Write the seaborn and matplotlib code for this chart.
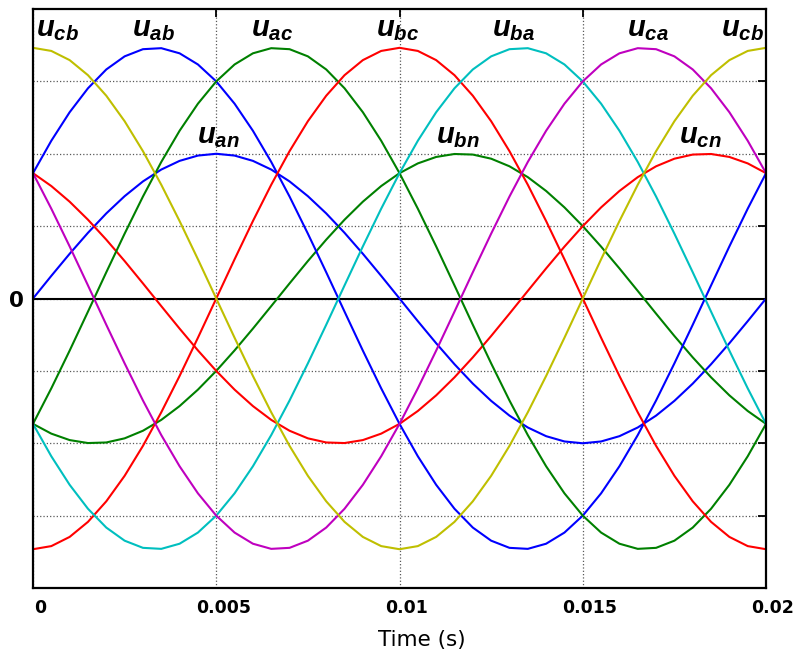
import numpy as np
import pandas as pd
import seaborn as sns
import matplotlib.pyplot as plt
from matplotlib.transforms import ScaledTranslation

# sample instants over one 50 Hz period
t = np.linspace(0, 0.02, 41)

# phase voltages (grid units, peak = 2)
u_an = [0, 0.313, 0.618, 0.908, 1.176, 1.414, 1.618, 1.782, 1.902, 1.975, 2.000,
        1.975, 1.902, 1.782, 1.618, 1.414, 1.176, 0.908, 0.618, 0.313, 0,
        -0.313, -0.618, -0.908, -1.176, -1.414, -1.618, -1.782, -1.902, -1.975, -2.000,
        -1.975, -1.902, -1.782, -1.618, -1.414, -1.176, -0.908, -0.618, -0.313, 0]
u_bn = [-1.732, -1.867, -1.956, -1.997, -1.989, -1.932, -1.827, -1.677, -1.486, -1.259, -1.000,
        -0.717, -0.416, -0.105, 0.209, 0.518, 0.813, 1.089, 1.338, 1.554, 1.732,
        1.867, 1.956, 1.997, 1.989, 1.932, 1.827, 1.677, 1.486, 1.259, 1.000,
        0.717, 0.416, 0.105, -0.209, -0.518, -0.813, -1.089, -1.338, -1.554, -1.732]
u_cn = [1.732, 1.554, 1.338, 1.089, 0.813, 0.518, 0.209, -0.105, -0.416, -0.717, -1.000,
        -1.259, -1.486, -1.677, -1.827, -1.932, -1.989, -1.997, -1.956, -1.867, -1.732,
        -1.554, -1.338, -1.089, -0.813, -0.518, -0.209, 0.105, 0.416, 0.717, 1.000,
        1.259, 1.486, 1.677, 1.827, 1.932, 1.989, 1.997, 1.956, 1.867, 1.732]

xticks = [0, 0.005, 0.01, 0.015, 0.02]
xticklabels = ['0', '0.005', '0.01', '0.015', '0.02']

u_an = np.array(u_an)
u_bn = np.array(u_bn)
u_cn = np.array(u_cn)

# line voltages are differences of the phase voltages
series = {
    'an': u_an, 'bn': u_bn, 'cn': u_cn,
    'ab': u_an - u_bn, 'ac': u_an - u_cn, 'bc': u_bn - u_cn,
    'ba': u_bn - u_an, 'ca': u_cn - u_an, 'cb': u_cn - u_bn,
}
colors = {
    'an': '#0000ff', 'bn': '#008000', 'cn': '#ff0000',
    'ab': '#0000ff', 'ac': '#008000', 'bc': '#ff0000',
    'ba': '#00bfbf', 'ca': '#bf00bf', 'cb': '#bfbf00',
}

df = pd.concat([pd.DataFrame({'t': t, 'u': v, 'name': k}) for k, v in series.items()])

sns.set_style('white')
plt.rcParams['font.family'] = ['DejaVu Sans']
plt.rcParams['text.color'] = 'black'
plt.rcParams['xtick.color'] = 'black'
plt.rcParams['ytick.color'] = 'black'
plt.rcParams['axes.labelcolor'] = 'black'
plt.rcParams['mathtext.fontset'] = 'custom'
plt.rcParams['mathtext.it'] = 'Liberation Sans:italic:bold'
plt.rcParams['mathtext.rm'] = 'Liberation Sans:bold'

fig = plt.figure(figsize=(7.93, 6.54), dpi=100)
ax = fig.add_axes([0.0416, 0.1009, 0.9244, 0.8853])

ax.axhline(0, color='k', lw=1.5, zorder=1)
sns.lineplot(data=df, x='t', y='u', hue='name', palette=colors, estimator=None,
             sort=False, legend=False, lw=1.5, ax=ax, zorder=2)

ax.set_xlim(0, 0.02)
ax.set_ylim(-4, 4)
ax.set_xticks(xticks)
ax.set_xticklabels(xticklabels, fontsize=12.5, fontweight='bold')
ax.set_yticks([-3, -2, -1, 0, 1, 2, 3])
ax.set_yticklabels(['', '', '', '0', '', '', ''], fontsize=15.5, fontweight='bold')
ax.set_xlabel('')
ax.set_ylabel('')
ax.grid(True, ls=':', color='0.35', lw=0.9)
ax.tick_params(direction='in', length=6, width=1.3, colors='k', top=True, right=True)
ax.tick_params(axis='x', pad=8)
ax.tick_params(axis='y', pad=6.5)
for sp in ax.spines.values():
    sp.set_color('k')
    sp.set_linewidth(1.6)

for lab in ax.get_xticklabels():
    lab.set_transform(lab.get_transform() + ScaledTranslation(0.07, 0, fig.dpi_scale_trans))

# curve labels
labels = [('cb', 0.00068, 3.63), ('ab', 0.0033, 3.63), ('ac', 0.00652, 3.63),
          ('bc', 0.00996, 3.63), ('ba', 0.0131, 3.63), ('ca', 0.01678, 3.63),
          ('cb', 0.01937, 3.63), ('an', 0.00505, 2.15), ('bn', 0.0116, 2.15),
          ('cn', 0.0182, 2.15)]
for name, x, y in labels:
    ax.text(x, y, r'$u_{%s}$' % name, fontsize=21, color='k', ha='center', va='baseline')

fig.text(421.5 / 793, 1 - 646 / 654, 'Time (s)', fontsize=15.5, color='k',
         ha='center', va='baseline')

fig.savefig('out.png', dpi=100)
